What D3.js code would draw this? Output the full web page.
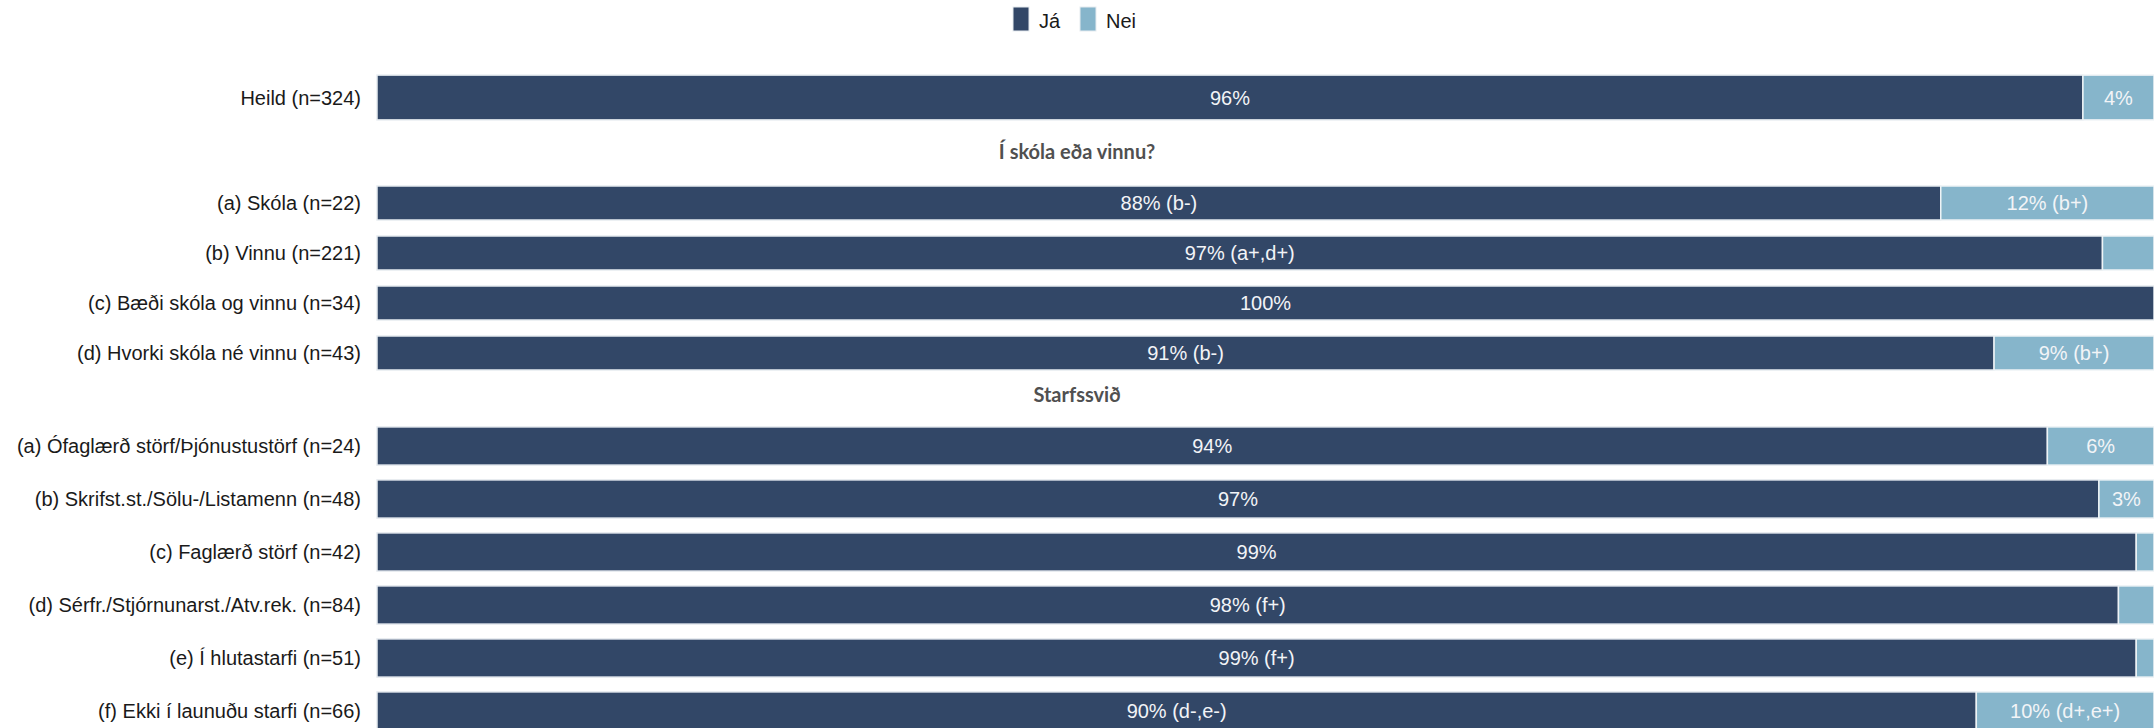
<!DOCTYPE html>
<html>
<head>
<meta charset="utf-8">
<script src="https://cdn.jsdelivr.net/npm/d3@7"></script>
<style>
  body { margin: 0; background: #fff; }
  text { font-family: "Liberation Sans", Arial, sans-serif; }
</style>
</head>
<body>
<div id="chart"></div>
<script>
// Legend
var legendKeys = ["Já", "Nei"];
var colors = ["#324767", "#86b5cb"];

// Heild
var heildLabels = ["Heild (n=324)"];
var heildJa = [96];
var heildNei = [4];
var heildJaSig = [""];
var heildNeiSig = [""];

// Í skóla eða vinnu?
var skoliTitle = "Í skóla eða vinnu?";
var skoliLabels = ["(a) Skóla (n=22)", "(b) Vinnu (n=221)", "(c) Bæði skóla og vinnu (n=34)", "(d) Hvorki skóla né vinnu (n=43)"];
var skoliJa = [88, 97.1, 100, 91];
var skoliNei = [12, 2.9, 0, 9];
var skoliJaSig = ["(b-)", "(a+,d+)", "", "(b-)"];
var skoliNeiSig = ["(b+)", "", "", "(b+)"];

// Starfssvið
var starfTitle = "Starfssvið";
var starfLabels = ["(a) Ófaglærð störf/Þjónustustörf (n=24)", "(b) Skrifst.st./Sölu-/Listamenn (n=48)", "(c) Faglærð störf (n=42)", "(d) Sérfr./Stjórnunarst./Atv.rek. (n=84)", "(e) Í hlutastarfi (n=51)", "(f) Ekki í launuðu starfi (n=66)"];
var starfJa = [94, 96.9, 99, 98, 99, 90];
var starfNei = [6, 3.1, 1, 2, 1, 10];
var starfJaSig = ["", "", "", "(f+)", "(f+)", "(d-,e-)"];
var starfNeiSig = ["", "", "", "", "", "(d+,e+)"];

var width = 2154, height = 728;

var svg = d3.select('#chart')
  .append('svg')
    .attr('width', width)
    .attr('height', height);

var x = d3.scaleLinear()
  .domain([0, 100])
  .range([377, width]);

// build rows for each panel
function rows(labels, ja, nei, jaSig, neiSig) {
  return labels.map(function(l, i) {
    return {label: l, ja: ja[i], nei: nei[i], jaSig: jaSig[i], neiSig: neiSig[i]};
  });
}

var panels = [
  {title: null, data: rows(heildLabels, heildJa, heildNei, heildJaSig, heildNeiSig), range: [65.5, 129.5], pad: 0.3},
  {title: skoliTitle, titleY: 151, data: rows(skoliLabels, skoliJa, skoliNei, skoliJaSig, skoliNeiSig), range: [178, 378], pad: 0.32},
  {title: starfTitle, titleY: 394, data: rows(starfLabels, starfJa, starfNei, starfJaSig, starfNeiSig), range: [419.5, 737.5], pad: 0.28}
];

function fmt(v, sig) {
  return Math.round(v) + "%" + (sig ? " " + sig : "");
}

panels.forEach(function(p) {
  var y = d3.scaleBand()
    .domain(p.data.map(function(d) { return d.label; }))
    .range(p.range)
    .paddingInner(p.pad)
    .paddingOuter(p.pad / 2);

  var g = svg.append("g");

  if (p.title) {
    svg.append("text")
      .attr("x", width / 2)
      .attr("y", p.titleY)
      .attr("text-anchor", "middle")
      .attr("dominant-baseline", "central")
      .style("font-family", "Lato, 'Open Sans', sans-serif")
      .style("font-weight", "bold")
      .style("font-size", "20px")
      .style("fill", "#505050")
      .text(p.title);
  }

  // category labels
  g.selectAll(".cat")
    .data(p.data)
    .enter().append("text")
      .attr("x", 361)
      .attr("y", function(d) { return y(d.label) + y.bandwidth() / 2; })
      .attr("text-anchor", "end")
      .attr("dominant-baseline", "central")
      .style("font-size", "20px")
      .style("fill", "#1a1a1a")
      .text(function(d) { return d.label; });

  // Já bars
  g.selectAll(".ja")
    .data(p.data)
    .enter().append("rect")
      .attr("x", x(0))
      .attr("y", function(d) { return y(d.label); })
      .attr("width", function(d) { return x(d.ja) - x(0); })
      .attr("height", y.bandwidth())
      .attr("fill", colors[0])
      .attr("stroke", "#e6ebf0")
      .attr("stroke-width", 1.5);

  // Nei bars
  g.selectAll(".nei")
    .data(p.data.filter(function(d) { return d.nei > 0; }))
    .enter().append("rect")
      .attr("x", function(d) { return x(d.ja); })
      .attr("y", function(d) { return y(d.label); })
      .attr("width", function(d) { return x(d.ja + d.nei) - x(d.ja); })
      .attr("height", y.bandwidth())
      .attr("fill", colors[1])
      .attr("stroke", "#eef3f6")
      .attr("stroke-width", 1.5);

  // value labels
  g.selectAll(".jaLab")
    .data(p.data)
    .enter().append("text")
      .attr("x", function(d) { return (x(0) + x(d.ja)) / 2; })
      .attr("y", function(d) { return y(d.label) + y.bandwidth() / 2; })
      .attr("text-anchor", "middle")
      .attr("dominant-baseline", "central")
      .style("font-size", "20px")
      .style("fill", "#f2f4f7")
      .text(function(d) { return fmt(d.ja, d.jaSig); });

  g.selectAll(".neiLab")
    .data(p.data.filter(function(d) { return d.nei >= 3; }))
    .enter().append("text")
      .attr("x", function(d) { return (x(d.ja) + x(d.ja + d.nei)) / 2; })
      .attr("y", function(d) { return y(d.label) + y.bandwidth() / 2; })
      .attr("text-anchor", "middle")
      .attr("dominant-baseline", "central")
      .style("font-size", "20px")
      .style("fill", "#f2f4f7")
      .text(function(d) { return fmt(d.nei, d.neiSig); });
});

// Legend
var legend = svg.append("g").attr("class", "legend");
var legX = [1013, 1080];
legendKeys.forEach(function(k, i) {
  legend.append("rect")
    .attr("x", legX[i])
    .attr("y", 7)
    .attr("width", 16)
    .attr("height", 24)
    .attr("fill", colors[i])
    .attr("stroke", "#e6ebf0");
  legend.append("text")
    .attr("x", legX[i] + 26)
    .attr("y", 21)
    .attr("dominant-baseline", "central")
    .style("font-size", "20px")
    .style("fill", "#1a1a1a")
    .text(k);
});
</script>
</body>
</html>
